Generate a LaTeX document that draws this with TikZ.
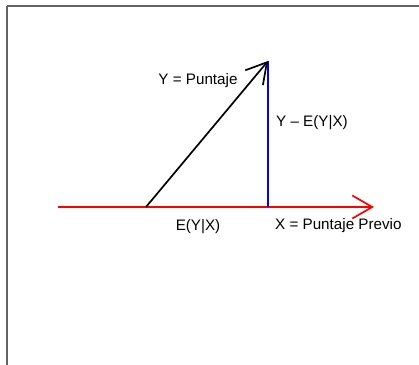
\documentclass[tikz,border=0pt]{standalone}
\usepackage{fontspec}
\setmainfont{Liberation Sans}
\usetikzlibrary{arrows.meta}
\begin{document}
\begin{tikzpicture}[x=1pt,y=-1pt,
  vec/.style={line width=1.7pt,-{Straight Barb[length=20pt,width=23pt,line width=1.7pt]}},
  lbl/.style={font=\fontsize{15.2pt}{18pt}\selectfont,inner sep=0pt}]
\useasboundingbox (0,0) rectangle (419,364);
\draw[draw={rgb,255:red,100;green,100;blue,100},line width=1.2pt] (7,6) -- (425,6);
\draw[draw={rgb,255:red,100;green,100;blue,100},line width=1.2pt] (7,6) -- (7,370);
\coordinate (xs) at (58,207);
\coordinate (xe) at (374,207);
\coordinate (o) at (146,207);
\coordinate (top) at (268,61);
\coordinate (foot) at (268,207);
\draw[vec,red] (xs) -- (xe);
\draw[blue,line width=1.7pt] (foot) -- (top);
\draw[vec,black] (o) -- (top);
\node[lbl] (ylab) at (198,81) {Y = Puntaje};
\node[lbl,anchor=west] (rlab) at (276,123) {Y – E(Y|X)};
\node[lbl] (elab) at (198,227) {E(Y|X)};
\node[lbl,anchor=west] (xlab) at (275,226) {X = Puntaje Previo};
\end{tikzpicture}
\end{document}
